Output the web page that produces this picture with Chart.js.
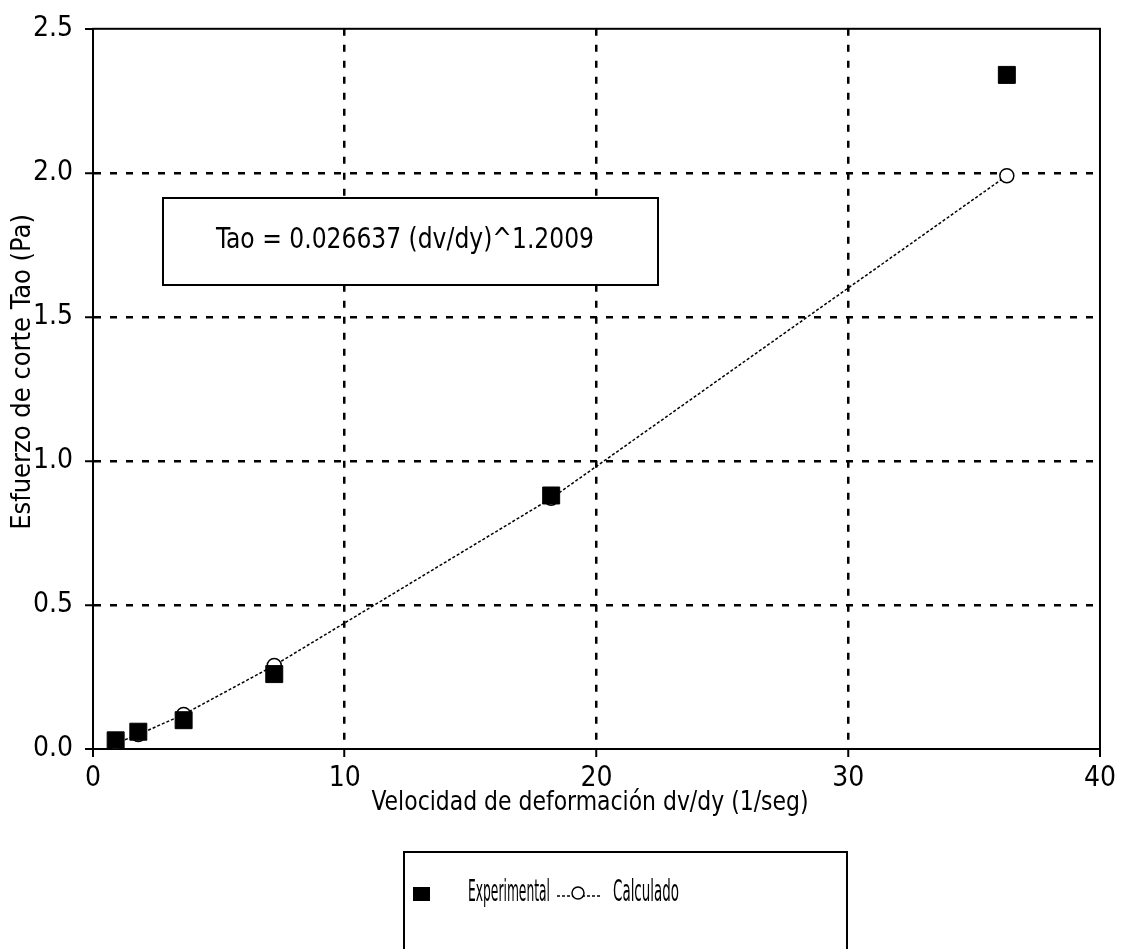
<!DOCTYPE html>
<html>
<head>
<meta charset="utf-8">
<script src="https://cdn.jsdelivr.net/npm/chart.js@4/dist/chart.umd.min.js"></script>
<style>
  html, body { margin: 0; padding: 0; background: #fff; }
  #wrap { width: 1121px; height: 949px; position: relative; }
</style>
</head>
<body>
<div id="wrap"><canvas id="chart" width="1121" height="949"></canvas></div>
<script>
// datos
var velocidad = [0.9, 1.8, 3.6, 7.2, 18.2, 36.3];
var experimental = [0.03, 0.06, 0.10, 0.26, 0.88, 2.34];
var calculado = [0.02, 0.05, 0.12, 0.29, 0.87, 1.99];
var xTicks = [0, 10, 20, 30, 40];
var yTicks = [0.0, 0.5, 1.0, 1.5, 2.0, 2.5];

var tituloX = 'Velocidad de deformación dv/dy (1/seg)';
var tituloY = 'Esfuerzo de corte Tao (Pa)';
var ecuacion = 'Tao = 0.026637 (dv/dy)^1.2009';

var fuente = '"DejaVu Sans Condensed", "Liberation Sans Narrow", "Liberation Sans", sans-serif';

function puntos(xs, ys) {
    return xs.map(function (x, i) { return { x: x, y: ys[i] }; });
}

// titulos, caja de ecuacion y leyenda (texto comprimido como en el original)
var cajas = {
    id: 'cajas',
    afterDraw: function (chart) {
        var ctx = chart.ctx;
        ctx.save();
        ctx.strokeStyle = '#000';
        ctx.lineWidth = 2;
        ctx.fillStyle = '#000';
        ctx.textBaseline = 'middle';

        // titulos de ejes
        ctx.textAlign = 'center';
        ctx.font = '27px ' + fuente;
        ctx.fillText(tituloX, 590, 803, 437);
        ctx.save();
        ctx.translate(23, 372);
        ctx.rotate(-Math.PI / 2);
        ctx.font = '27px ' + fuente;
        ctx.fillText(tituloY, 0, 0, 400);
        ctx.restore();

        // ecuacion
        ctx.fillStyle = '#fff';
        ctx.fillRect(163, 198, 495, 87);
        ctx.fillStyle = '#000';
        ctx.strokeRect(163, 198, 495, 87);
        ctx.font = '29px ' + fuente;
        ctx.fillText(ecuacion, 405, 240, 378);

        // leyenda
        ctx.strokeRect(404, 852, 443, 110);
        ctx.fillRect(413, 887, 17, 14);
        ctx.textAlign = 'left';
        ctx.font = '30px ' + fuente;
        ctx.fillText('Experimental', 468, 893, 82);
        ctx.lineWidth = 1.5;
        ctx.setLineDash([3, 2]);
        ctx.beginPath();
        ctx.moveTo(557, 896);
        ctx.lineTo(600, 896);
        ctx.stroke();
        ctx.setLineDash([]);
        ctx.beginPath();
        ctx.arc(578, 893, 6, 0, Math.PI * 2);
        ctx.fillStyle = '#fff';
        ctx.fill();
        ctx.stroke();
        ctx.fillStyle = '#000';
        ctx.fillText('Calculado', 613, 893, 66);
        ctx.restore();
    }
};

var marco = {
    id: 'marco',
    beforeDatasetsDraw: function (chart) {
        // marco solido alrededor del area
        var a = chart.chartArea, c = chart.ctx;
        c.save();
        c.strokeStyle = '#000';
        c.lineWidth = 2;
        c.setLineDash([]);
        c.strokeRect(a.left, a.top, a.right - a.left, a.bottom - a.top);
        c.restore();
    }
};

var ctx = document.getElementById('chart').getContext('2d');
var grafica = new Chart(ctx, {
    type: 'scatter',
    data: {
        datasets: [{
            label: 'Calculado',
            data: puntos(velocidad, calculado),
            showLine: true,
            borderColor: '#000',
            borderWidth: 1.5,
            borderDash: [3, 2],
            pointStyle: 'circle',
            pointRadius: 7,
            pointBackgroundColor: '#fff',
            pointBorderColor: '#000',
            pointBorderWidth: 1.5,
            order: 2
        }, {
            label: 'Experimental',
            data: puntos(velocidad, experimental),
            showLine: false,
            pointStyle: 'rect',
            pointRadius: 12,
            backgroundColor: '#000',
            borderColor: '#000',
            order: 1
        }]
    },
    options: {
        responsive: false,
        animation: false,
        layout: { padding: { left: 0, top: 28, right: 16, bottom: 100 } },
        plugins: {
            legend: { display: false },
            tooltip: { enabled: false }
        },
        scales: {
            x: {
                type: 'linear',
                min: 0,
                max: 40,
                afterBuildTicks: function (axis) {
                    axis.ticks = xTicks.map(function (v) { return { value: v }; });
                },
                afterFit: function (axis) { axis.height = 100; },
                ticks: {
                    color: '#000',
                    font: { family: fuente, size: 28 },
                    padding: 5,
                    maxRotation: 0
                },
                grid: {
                    color: '#000',
                    lineWidth: function (c) { return (c.tick && (c.tick.value === 0 || c.tick.value === 40)) ? 0 : 2.5; },
                    tickColor: '#000',
                    tickLength: 8,
                    tickWidth: 2
                },
                border: { display: true, color: '#000', width: 2, dash: [7, 9] },
                title: { display: false }
            },
            y: {
                type: 'linear',
                min: 0,
                max: 2.5,
                afterBuildTicks: function (axis) {
                    axis.ticks = yTicks.map(function (v) { return { value: v }; });
                },
                afterFit: function (axis) { axis.width = 93; },
                ticks: {
                    color: '#000',
                    font: { family: fuente, size: 28 },
                    padding: 12,
                    callback: function (v) { return v.toFixed(1); }
                },
                grid: {
                    color: '#000',
                    lineWidth: function (c) { return (c.tick && (c.tick.value === 0 || c.tick.value === 2.5)) ? 0 : 2.5; },
                    tickColor: '#000',
                    tickLength: 8,
                    tickWidth: 2
                },
                border: { display: true, color: '#000', width: 2, dash: [7, 9] },
                title: { display: false }
            }
        }
    },
    plugins: [cajas, marco]
});
</script>
</body>
</html>
